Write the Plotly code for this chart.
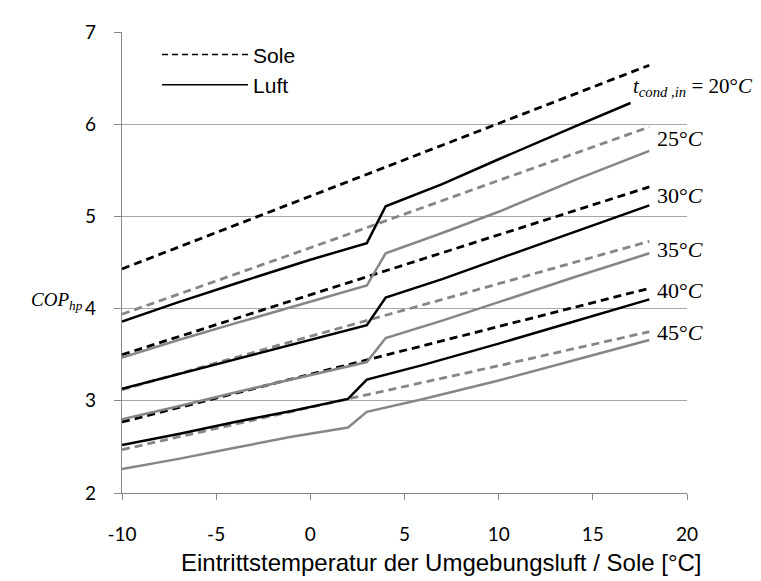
import plotly.graph_objects as go

# --- data ---
sole_x = [-10, 0, 10, 18]
sole_20 = [4.43, 5.22, 6.01, 6.64]
sole_25 = [3.94, 4.66, 5.39, 5.97]
sole_30 = [3.50, 4.15, 4.80, 5.32]
sole_35 = [3.12, 3.70, 4.27, 4.73]
sole_40 = [2.77, 3.29, 3.81, 4.22]
sole_45 = [2.47, 2.93, 3.38, 3.75]

luft_x_20 = [-10, -7, -4, 0, 3, 4, 7, 10, 14, 17]
luft_20 = [3.86, 4.07, 4.27, 4.53, 4.71, 5.11, 5.35, 5.62, 5.97, 6.23]
luft_x_hi = [-10, -7, -4, 0, 3, 4, 7, 10, 14, 18]
luft_25 = [3.47, 3.66, 3.84, 4.07, 4.25, 4.60, 4.82, 5.05, 5.39, 5.71]
luft_30 = [3.13, 3.29, 3.45, 3.66, 3.82, 4.12, 4.32, 4.54, 4.83, 5.12]
luft_35 = [2.80, 2.94, 3.09, 3.28, 3.42, 3.68, 3.87, 4.07, 4.34, 4.60]
luft_x_lo = [-10, -7, -4, -1, 2, 3, 6, 10, 14, 18]
luft_40 = [2.52, 2.64, 2.77, 2.89, 3.02, 3.23, 3.39, 3.62, 3.86, 4.10]
luft_45 = [2.26, 2.37, 2.49, 2.61, 2.71, 2.88, 3.02, 3.22, 3.44, 3.66]

x_ticks = [-10, -5, 0, 5, 10, 15, 20]
x_tick_text = ["-10", "-5", "0", "5", "10", "15", "20"]
y_ticks = [2, 3, 4, 5, 6, 7]
labels = ["25°", "30°", "35°", "40°", "45°"]

BLACK = "#000000"
GRAY = "#868686"

fig = go.Figure()

sole = [(sole_20, BLACK), (sole_25, GRAY), (sole_30, BLACK),
        (sole_35, GRAY), (sole_40, BLACK), (sole_45, GRAY)]
for ys, c in sole:
    fig.add_trace(go.Scatter(x=sole_x, y=ys, mode="lines", showlegend=False,
                             line=dict(color=c, width=2.8, dash="8px,5px")))

luft = [(luft_x_20, luft_20, BLACK), (luft_x_hi, luft_25, GRAY),
        (luft_x_hi, luft_30, BLACK), (luft_x_hi, luft_35, GRAY),
        (luft_x_lo, luft_40, BLACK), (luft_x_lo, luft_45, GRAY)]
for xs, ys, c in luft:
    fig.add_trace(go.Scatter(x=xs, y=ys, mode="lines", showlegend=False,
                             line=dict(color=c, width=2.5)))

# legend entries
fig.add_trace(go.Scatter(x=[None], y=[None], mode="lines", name="Sole",
                         line=dict(color=BLACK, width=1.5, dash="6px,4px")))
fig.add_trace(go.Scatter(x=[None], y=[None], mode="lines", name="Luft",
                         line=dict(color=BLACK, width=1.5)))

serif = "Liberation Serif"
annotations = [dict(x=17.05, y=6.40, xref="x", yref="y",
                    text="<i>t</i><sub><i>cond ,in</i></sub> = 20°<i>C</i>",
                    showarrow=False, xanchor="left", yanchor="middle",
                    font=dict(family=serif, size=21, color="black"))]
ys_lab = [5.84, 5.23, 4.64, 4.20, 3.74]
for t, yv in zip(labels, ys_lab):
    annotations.append(dict(x=18.3, y=yv, xref="x", yref="y", text=t + "<i>C</i>",
                            showarrow=False, xanchor="left", yanchor="middle",
                            font=dict(family=serif, size=22, color="black")))
annotations.append(dict(x=-0.066, y=4.08, xref="paper", yref="y",
                        text="<i>COP<sub>hp</sub></i>", showarrow=False,
                        xanchor="right", yanchor="middle",
                        font=dict(family=serif, size=19, color="black")))
annotations.append(dict(x=0.566, y=-0.151, xref="paper", yref="paper",
                        text="Eintrittstemperatur der Umgebungsluft / Sole [°C]",
                        showarrow=False, xanchor="center", yanchor="middle",
                        font=dict(family="Liberation Sans", size=24, color="black")))

# page body has an 8px margin; shrink the figure so it fits the window
fig.update_layout(
    width=753, height=573,
    margin=dict(l=114, r=74, t=15, b=88),
    paper_bgcolor="white", plot_bgcolor="white",
    showlegend=True,
    legend=dict(x=0.062, y=0.995, xanchor="left", yanchor="top",
                bgcolor="rgba(0,0,0,0)", itemwidth=86,
                font=dict(family="Liberation Sans", size=21, color="black"),
                tracegroupgap=0),
    annotations=annotations,
    xaxis=dict(range=[-10, 20], tickvals=x_ticks, ticktext=x_tick_text,
               showgrid=False, zeroline=False,
               showline=True, linecolor="#868686", linewidth=1.2,
               ticks="outside", ticklen=6, tickcolor="#868686",
               tickfont=dict(family="Lato", size=19, color="black"),
               ticklabelstandoff=18),
    yaxis=dict(range=[2, 7], tickvals=y_ticks, showgrid=True, gridcolor="#a6a6a6",
               gridwidth=1.2, zeroline=False,
               showline=True, linecolor="#868686", linewidth=1.2,
               ticks="outside", ticklen=7, tickcolor="#868686",
               tickfont=dict(family="Lato", size=19, color="black"),
               ticklabelstandoff=14),
)

fig.write_html("out.html")
